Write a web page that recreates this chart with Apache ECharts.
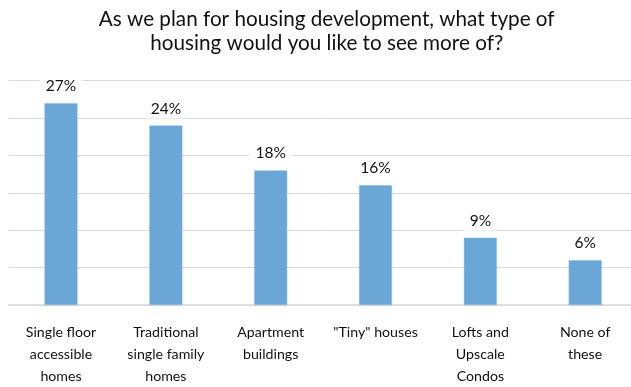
<!DOCTYPE html>
<html>
<head>
<meta charset="utf-8">
<script src="https://cdn.jsdelivr.net/npm/echarts@6/dist/echarts.min.js"></script>
<style>
  html, body { margin: 0; padding: 0; background: #fff; overflow: hidden; }
  /* the plot's gridlines run slightly past the right edge of the window */
  #chart { width: 640px; height: 387px; }
</style>
</head>
<body>
<div id="chart"></div>
<script>
// Survey answers: preferred housing types
const titleText = 'As we plan for housing development, what type of\nhousing would you like to see more of?';
const categories = [
  'Single floor\naccessible\nhomes',
  'Traditional\nsingle family\nhomes',
  'Apartment\nbuildings',
  '"Tiny" houses',
  'Lofts and\nUpscale\nCondos',
  'None of\nthese'
];
const shares = [27, 24, 18, 16, 9, 6];
const axisMax = 30;
const axisStep = 5;

const FONT = 'Lato';
const TEXT = '#111111';
const chart = echarts.init(document.getElementById('chart'), null, { renderer: 'canvas' });

chart.setOption({
  animation: false,
  backgroundColor: '#ffffff',
  title: {
    text: titleText,
    left: 321.7,
    textAlign: 'center',
    top: 2,
    textStyle: {
      fontFamily: FONT,
      fontSize: 20.7,
      fontWeight: 'normal',
      color: TEXT,
      lineHeight: 24.5
    }
  },
  grid: {
    left: 8.6,
    width: 629,
    top: 80.7,
    height: 227.6,
    containLabel: false
  },
  xAxis: {
    type: 'category',
    data: categories,
    axisTick: { show: false },
    axisLine: { show: true, lineStyle: { color: '#d9d9d9', width: 1.5 } },
    axisLabel: {
      interval: 0,
      margin: 16,
      fontFamily: FONT,
      fontSize: 14.2,
      lineHeight: 22,
      color: TEXT
    }
  },
  yAxis: {
    type: 'value',
    min: 0,
    max: axisMax,
    interval: axisStep,
    axisLabel: { show: false },
    axisLine: { show: false },
    axisTick: { show: false },
    splitLine: { lineStyle: { color: '#d9d9d9', width: 1 } }
  },
  series: [{
    type: 'bar',
    data: shares,
    barWidth: 33,
    itemStyle: { color: '#6aa7d6', borderColor: '#86b8e0', borderWidth: 0.5 },
    label: {
      show: true,
      position: 'top',
      distance: 7,
      formatter: p => p.value + '%',
      fontFamily: FONT,
      fontSize: 15.5,
      color: TEXT,
      backgroundColor: '#ffffff',
      padding: [2, 6]
    }
  }]
});
</script>
</body>
</html>
